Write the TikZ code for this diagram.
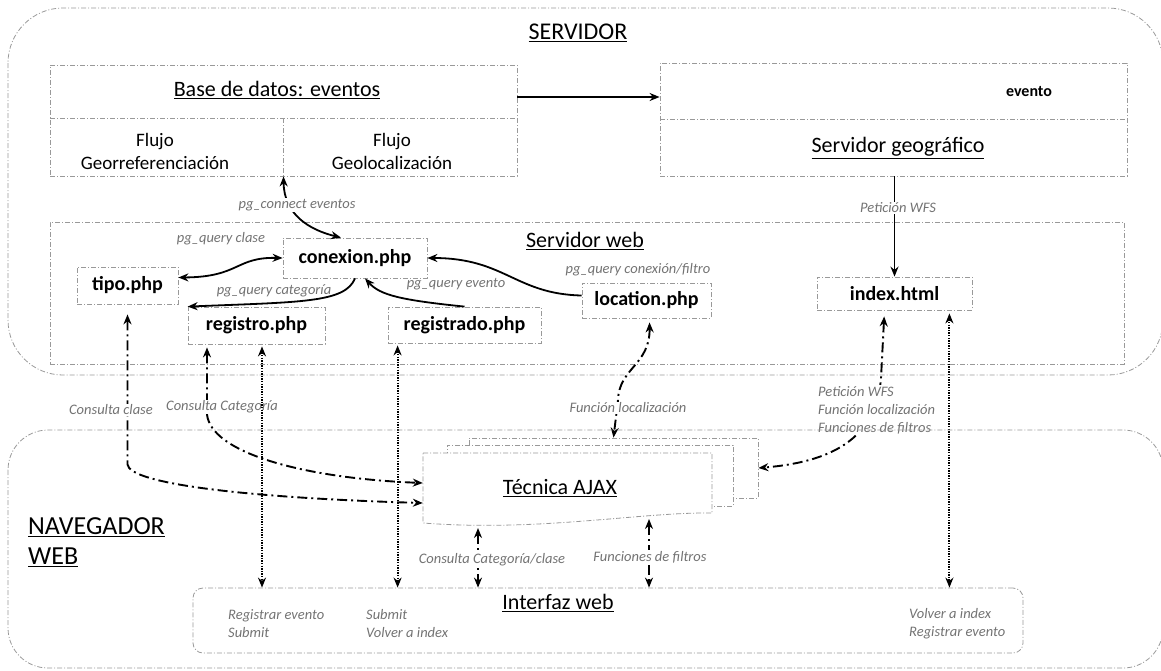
\documentclass[tikz,border=0pt]{standalone}
\usepackage{fontspec}
\setmainfont{Carlito}
\usetikzlibrary{arrows.meta}
\begin{document}
\begin{tikzpicture}[x=1pt,y=-1pt,
  >={Stealth[length=10pt,width=8pt]},
  frame/.style={draw=black!40, line width=0.8pt, dash pattern=on 5pt off 2pt on 1pt off 2pt},
  ttl/.style={inner sep=0pt, font=\fontsize{22}{26}\selectfont},
  filebox/.style={frame, fill=white, inner sep=0pt, font=\fontsize{20}{24}\selectfont\bfseries},
  lab/.style={inner sep=1pt, text=black!55, font=\fontsize{14.5}{18}\selectfont\itshape},
  wlab/.style={lab, fill=white},
  solidc/.style={line width=1.8pt},
  ddc/.style={line width=1.9pt, dash pattern=on 10pt off 4pt on 2pt off 4pt},
  dotc/.style={line width=2pt, dash pattern=on 1.3pt off 1.3pt},
]
\useasboundingbox (0,0) rectangle (1161,670);

% ---------------- SERVIDOR ----------------
\draw[frame, rounded corners=55pt] (8,8) rectangle (1163,375);
\node[ttl, font=\fontsize{24}{28}\selectfont] (servidor) at (578,33) {\underline{SERVIDOR}};

\node[frame, inner sep=0pt, minimum width=467pt, minimum height=111pt] (base) at (283.5,120.5) {};
\draw[frame] (50,118) -- (517,118) (283,118) -- (283,176);
\node[ttl] (basetitle) at (277,90) {\underline{Base de datos: eventos}};
\node[inner sep=0pt, align=center, font=\fontsize{19}{23}\selectfont] (fgeoref) at (155,151) {Flujo\\Georreferenciación};
\node[inner sep=0pt, align=center, font=\fontsize{19}{23}\selectfont] (fgeoloc) at (392,151) {Flujo\\Geolocalización};

\node[frame, inner sep=0pt, minimum width=467pt, minimum height=113pt] (geo) at (893.5,119.5) {};
\draw[frame] (660,119) -- (1127,119);
\node[inner sep=0pt, font=\fontsize{16}{20}\selectfont\bfseries] (evento) at (1029,92) {evento};
\node[ttl] (geotitle) at (898,148) {\underline{Servidor geográfico}};

\coordinate (y97) at (0,97);
\draw[line width=2.6pt, ->] (base.east |- y97) -- (geo.west |- y97);

\node[frame, inner sep=0pt, minimum width=1074pt, minimum height=142pt] (web) at (587,293) {};
\node[ttl] (webtitle) at (585,241) {\underline{Servidor web}};

\node[filebox, minimum width=144pt, minimum height=40pt] (conexion) at (355,258) {conexion.php};
\node[filebox, minimum width=101pt, minimum height=37pt] (tipo) at (127.5,285.5) {tipo.php};
\node[filebox, minimum width=137pt, minimum height=37pt] (registro) at (256.5,325.5) {registro.php};
\node[filebox, minimum width=153pt, minimum height=36pt] (registrado) at (464.5,325) {registrado.php};
\node[filebox, minimum width=129pt, minimum height=35pt] (location) at (646.5,300.5) {location.php};
\node[filebox, minimum width=155pt, minimum height=33pt] (index) at (894.5,293.5) {index.html};

% solid connectors
\draw[solidc, <->] (base.south) .. controls (284,215) and (310,230) .. ([xshift=-14pt]conexion.north);
\node[wlab] (lpgc) at (297,205) {pg\_connect eventos};
\draw[solidc, ->] (geo.south -| index.north) -- (index.north);
\node[wlab] (lwfs) at (898,208) {Petición WFS};
\draw[solidc, <->] (conexion.west) .. controls (235,257) and (240,277) .. ([yshift=8pt]tipo.east);
\node[lab] (lpqc) at (221,239) {pg\_query clase};
\draw[solidc, ->] (conexion.south) .. controls (345,303) and (300,302) .. (registro.north west);
\node[lab] (lpqcat) at (274,291) {pg\_query categoría};
\draw[solidc, ->] (registrado.north) .. controls (400,300) and (380,295) .. ([xshift=10pt]conexion.south);
\node[lab] (lpqe) at (456,284) {pg\_query evento};
\draw[solidc, ->] ([yshift=5pt]location.west) .. controls (515,294) and (505,258) .. (conexion.east);
\node[lab] (lpqf) at (638,270) {pg\_query conexión/filtro};

% ---------------- AJAX ----------------
\node[frame, fill=white, inner sep=0pt, minimum width=289pt, minimum height=60pt] (ajaxback) at (613.5,468) {};
\node[frame, fill=white, inner sep=0pt, minimum width=286pt, minimum height=61pt] (ajaxmid) at (590,475.5) {};
\draw[frame, fill=white] (423,453) -- (712,453) -- (712,513) .. controls (640,512) and (540,532) .. (423,523) -- cycle;
\node[inner sep=0pt, minimum width=289pt, minimum height=70pt] (ajax) at (567.5,488) {};
\node[ttl] (ajaxtitle) at (560,488) {\underline{Técnica AJAX}};

% ---------------- Interfaz ----------------
\node[frame, rounded corners=10pt, inner sep=0pt, minimum width=830pt, minimum height=65pt] (interfaz) at (608,620.5) {};
\node[ttl] (interfaztitle) at (558,603) {\underline{Interfaz web}};
\node[lab, anchor=west, align=left] (li1) at (227,624) {Registrar evento\\Submit};
\node[lab, anchor=west, align=left] (li2) at (365,624) {Submit\\Volver a index};
\node[lab, anchor=west, align=left] (li3) at (908,624) {Volver a index\\Registrar evento};

% dash-dot connectors
\coordinate (y483) at (0,483);
\coordinate (y503) at (0,503);
\draw[ddc, <->, shorten <=10pt] (tipo.south) -- ++(0,160) .. controls (129,484) and (250,498) .. (ajax.west |- y503);
\coordinate (rq) at ([xshift=-49.5pt]registro.south);
\draw[ddc, <->, shorten <=3pt] (rq) -- ++(0,70) .. controls (211,452) and (300,478) .. (ajax.west |- y483);
\draw[ddc, <->, shorten <=4pt] ([xshift=3pt]location.south) .. controls (650,365) and (619,368) .. (618,400) -- (ajaxback.north);
\draw[ddc, <->, shorten <=6pt] ([xshift=-10pt]index.south) -- (881,378) .. controls (876,440) and (830,462) .. (ajaxback.east);
\coordinate (ab1) at (478,528);
\coordinate (ab2) at (649,519);
\draw[ddc, <->] (ab1) -- (ab1 |- interfaz.north);
\draw[ddc, <->] (ab2) -- (ab2 |- interfaz.north);

\node[wlab] (lcclase) at (111,410) {Consulta clase};
\node[wlab] (lccat) at (222,407) {Consulta Categoría};
\node[wlab] (lfloc) at (628,408) {Función localización};
\node[wlab, anchor=west, align=left] (lidx) at (817,410) {Petición WFS\\Función localización\\Funciones de filtros};
\node[wlab] (lccc) at (492,560) {Consulta Categoría/clase};
\node[wlab] (lff) at (650,557) {Funciones de filtros};

% dotted connectors
\coordinate (d1) at ([xshift=5.5pt]registro.south);
\coordinate (d2) at ([xshift=10pt]registrado.south west);
\coordinate (d3) at ([xshift=-23pt]index.south east);
\draw[dotc, <->, shorten <=2pt] (d1) -- (d1 |- interfaz.north);
\draw[dotc, <->, shorten <=2pt] (d2) -- (d2 |- interfaz.north);
\draw[dotc, <->, shorten <=3pt] (d3) -- (d3 |- interfaz.north);

% ---------------- NAVEGADOR WEB ----------------
\draw[frame, rounded corners=40pt] (8,430) rectangle (1163,668);
\node[anchor=west, align=left, inner sep=0pt, font=\fontsize{26}{30}\selectfont] (nav) at (28,542) {\underline{NAVEGADOR}\\\underline{WEB}};

\end{tikzpicture}
\end{document}
